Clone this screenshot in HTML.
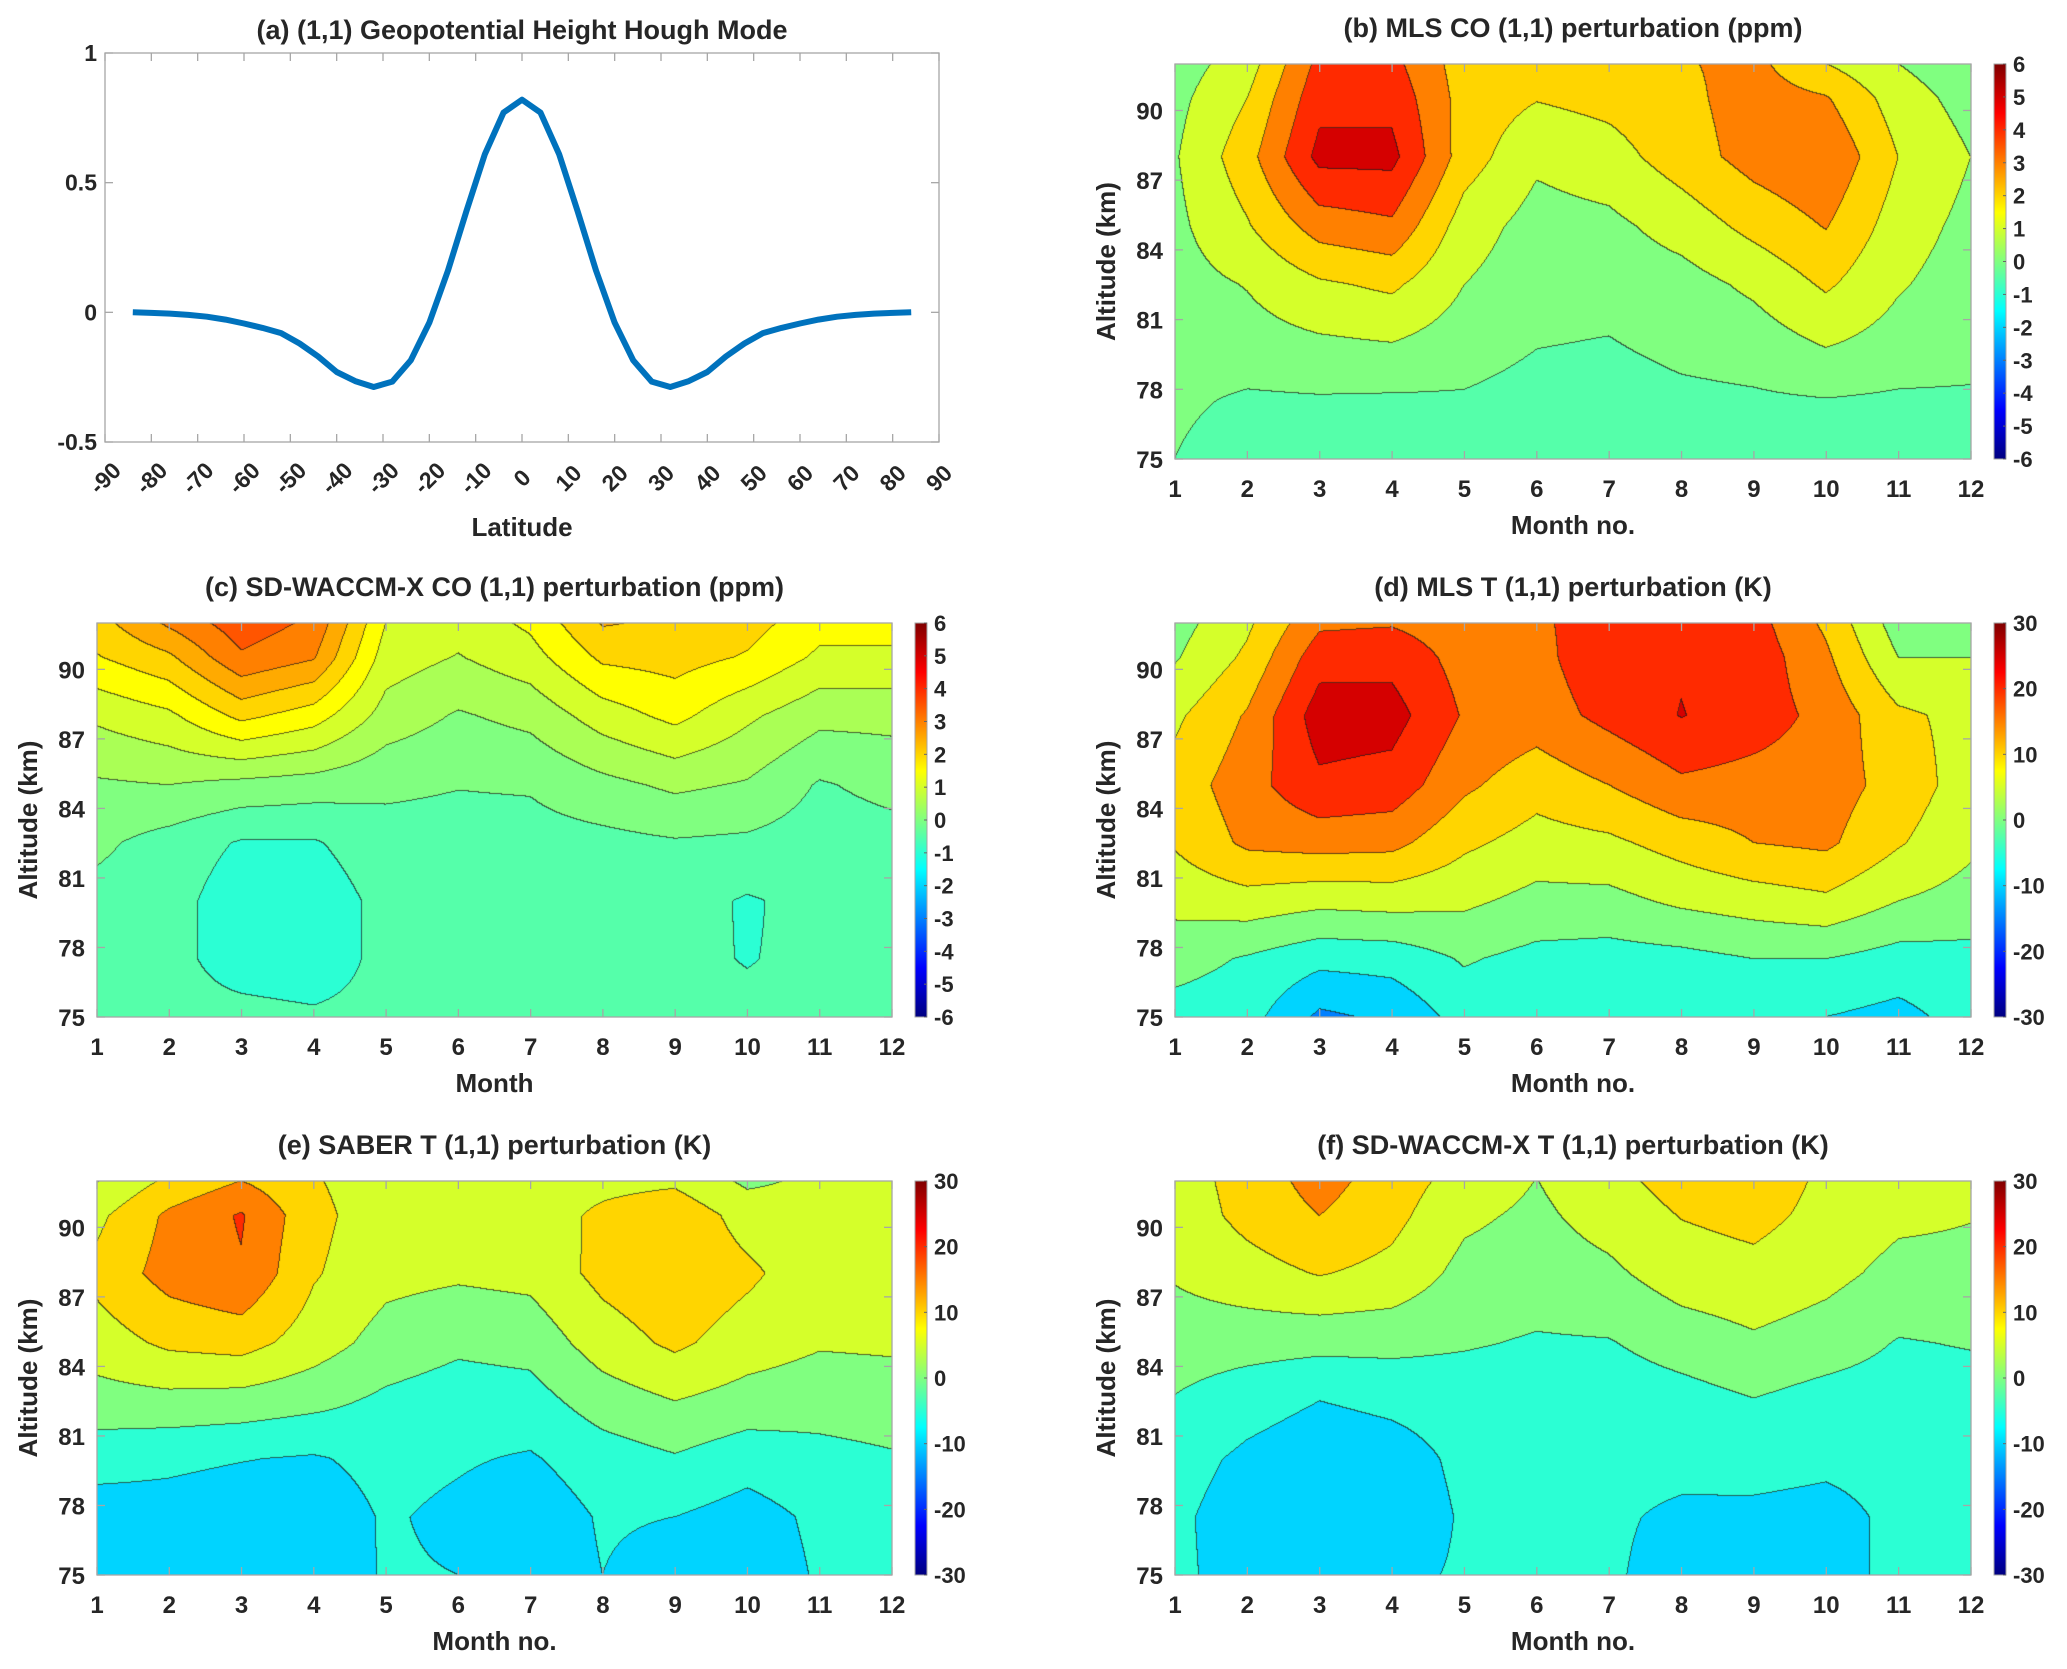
<!DOCTYPE html>
<html><head><meta charset="utf-8">
<style>
html,body{margin:0;padding:0;background:#fff;}
#page{position:relative;width:2067px;height:1669px;overflow:hidden;background:#fff;}
canvas{position:absolute;}
svg{position:absolute;left:0;top:0;}
text{font-family:"Liberation Sans",Arial,sans-serif;font-weight:bold;fill:#262626;}
</style></head>
<body>
<div id="page">
<canvas id="cv-b"></canvas>
<canvas id="cv-c"></canvas>
<canvas id="cv-d"></canvas>
<canvas id="cv-e"></canvas>
<canvas id="cv-f"></canvas>
<svg id="ov" width="2067" height="1669"></svg>
</div>
<script>
// ---------- Panel (a) data ----------
const houghLat = [-84,-80,-76,-72,-68,-64,-60,-56,-52,-48,-44,-40,-36,-32,-28,-24,-20,-16,-12,-8,-4,0,4,8,12,16,20,24,28,32,36,40,44,48,52,56,60,64,68,72,76,80,84];
const houghVal = [0,-0.002,-0.005,-0.01,-0.017,-0.028,-0.043,-0.06,-0.08,-0.12,-0.17,-0.23,-0.265,-0.288,-0.267,-0.185,-0.04,0.16,0.39,0.61,0.77,0.82,0.77,0.61,0.39,0.16,-0.04,-0.185,-0.267,-0.288,-0.265,-0.23,-0.17,-0.12,-0.08,-0.06,-0.043,-0.028,-0.017,-0.01,-0.005,-0.002,0];
const latTicks = [-90,-80,-70,-60,-50,-40,-30,-20,-10,0,10,20,30,40,50,60,70,80,90];
const houghTicks = [-0.5,0,0.5,1];

// ---------- Contour grid ----------
const months = [1,2,3,4,5,6,7,8,9,10,11,12];
const altitudes = [75,77.5,80,82.5,85,88,90.5,92];
const monthTicks = [1,2,3,4,5,6,7,8,9,10,11,12];
const altTicks = [75,78,81,84,87,90];
const coTicks = [-6,-5,-4,-3,-2,-1,0,1,2,3,4,5,6];
const tTicks = [-30,-20,-10,0,10,20,30];

// rows: one per altitude (75 -> 92), columns: months 1..12
const mlsCO = [
 [0.0,-0.6,-0.6,-0.6,-0.6,-0.8,-0.8,-0.7,-0.6,-0.6,-0.6,-0.6],
 [0.2,-0.15,-0.1,-0.15,-0.12,-0.4,-0.5,-0.25,-0.15,-0.05,-0.15,-0.15],
 [0.45,0.6,0.85,1.0,0.5,0.05,-0.05,0.3,0.5,1.1,0.6,0.4],
 [0.6,1.05,1.85,2.2,1.0,0.4,0.4,0.6,1.2,2.15,1.1,0.5],
 [0.75,1.9,3.45,3.8,1.5,0.6,0.75,1.4,2.3,3.05,1.5,0.7],
 [0.9,2.6,5.3,5.3,2.5,1.2,1.6,2.5,3.4,3.9,2.0,1.0],
 [0.7,2.0,4.7,4.7,2.6,2.05,2.3,2.7,3.5,3.1,1.5,0.6],
 [0.5,1.5,4.3,4.3,2.5,2.5,2.6,2.9,3.3,2.0,1.0,0.3]
];
const waccmCO = [
 [-0.4,-0.4,-0.4,-0.45,-0.4,-0.4,-0.4,-0.4,-0.4,-0.4,-0.4,-0.4],
 [-0.3,-0.4,-0.65,-0.7,-0.4,-0.4,-0.4,-0.4,-0.4,-0.52,-0.4,-0.4],
 [-0.15,-0.3,-0.8,-0.8,-0.35,-0.35,-0.35,-0.35,-0.3,-0.55,-0.35,-0.35],
 [0.1,-0.2,-0.55,-0.55,-0.2,-0.2,-0.2,-0.15,-0.05,-0.1,-0.25,-0.2],
 [0.43,0.5,0.35,0.25,0.1,0.02,0.05,0.35,0.6,0.45,-0.05,0.15],
 [1.1,1.4,2.15,1.75,0.8,0.45,0.65,1.25,1.65,1.1,0.65,0.65],
 [1.96,2.4,3.42,3.05,1.25,0.97,1.3,2.1,2.2,1.95,1.4,1.4],
 [2.3,3.1,3.8,3.4,1.5,1.2,1.6,2.55,2.4,2.2,1.7,1.7]
];
const mlsT = [
 [-2,-3,-11,-9,-3,-3.5,-4,-4,-3,-5,-6.5,-3],
 [2,-0.5,-3.5,-3,0.5,-1.5,-2,-1.5,0,0,-2,-1.5],
 [6.5,8,6.5,7,6,3.5,3.5,6,7.5,9,5,3],
 [10.5,16,17,16.5,11,8,9,12,15,16,10.5,6],
 [12,18,24,23,16,12,15,19,18,17.5,13,7.5],
 [9,15.5,27.5,27,19.5,17.5,21.5,25.2,22.5,18.5,11,8.5],
 [4.5,11,23,23.5,18,18.5,23.5,24.5,23,16,5,5],
 [3,9,19,19.5,17,19,23,24,22,14,2.5,2.5]
];
const saberT = [
 [-8.5,-8,-8.5,-8.5,-4.5,-5,-8,-5,-7,-8,-4.5,-4],
 [-7.5,-7,-8,-8,-4.5,-6,-8,-4.5,-5,-7,-4,-3.5],
 [-3,-4,-4.8,-5.5,-3.5,-4.5,-5.5,-2.5,-0.5,-3,-1.5,-0.5],
 [3,3.5,3,1.5,-1,-2.5,-2,2.5,5,3,2,2.5],
 [7.5,11,12,7.5,3,1,1.8,7.5,11,7.5,5.5,5.8],
 [11.5,17,19.5,10.5,6.5,5.8,6.5,11.5,14,11,7,7],
 [8.8,16,20.5,11.5,7,7,7.5,11,13.5,8,7,7],
 [4.8,11,15,10.5,7,7,7.5,8.5,9,4,6,7]
];
const waccmT = [
 [-4,-7,-9,-6,-4.5,-4.5,-4.5,-6.5,-7,-6.5,-4,-3.5],
 [-4,-7.5,-9,-8,-4.5,-4.5,-4.5,-5.6,-6,-6.5,-4,-3.5],
 [-3,-6,-8,-7,-4,-4,-4,-4,-3.3,-4,-3.5,-3],
 [-0.3,-3,-5,-4,-3,-3,-3,-2,-0.2,-2,-2.5,-2],
 [2.5,2,1.5,1.5,0.5,-0.5,-0.3,2.2,4.2,2.5,-0.3,0.3],
 [5.5,8,10.3,8.5,3.5,2.5,4,7.5,8.5,6.5,3.5,3.7],
 [7,11.5,15,11.5,6,4,7,10.2,11.5,8.5,6,5.2],
 [7.5,12,17,12.5,8,4.9,8.5,12,13,9,7.5,6.5]
];

const NS = "http://www.w3.org/2000/svg";
const ov = document.getElementById('ov');

function jet(t){
  const c = v => Math.max(0, Math.min(1, v));
  return [c(Math.min(4*t-1.5, -4*t+4.5)), c(Math.min(4*t-0.5, -4*t+3.5)), c(Math.min(4*t+0.5, -4*t+2.5))].map(v => Math.round(v*255));
}
function el(tag, attrs, parent){
  const e = document.createElementNS(NS, tag);
  for (const k in attrs) e.setAttribute(k, attrs[k]);
  (parent || ov).appendChild(e);
  return e;
}
function txt(s, x, y, size, anchor, extra){
  const t = el('text', Object.assign({x:x, y:y, 'font-size':size, 'text-anchor':anchor||'middle'}, extra||{}));
  t.textContent = s;
  return t;
}

const defs = el('defs', {});
const grad = el('linearGradient', {id:'jetg', x1:0, y1:1, x2:0, y2:0}, defs);
for (let i = 0; i <= 32; i++){
  const c = jet(i/32);
  el('stop', {offset:(i/32), 'stop-color':'rgb('+c.join(',')+')'}, grad);
}

function drawAxesBox(L, R, T, B){
  const r = el('rect', {x:L, y:T, width:R-L, height:B-T, fill:'none', stroke:'#a6a6a6', 'stroke-width':1.3});
  
  
}

// ---------- Panel (a) ----------
(function(){
  const L=105, R=939, T=53, B=442;
  const xs = v => L + (v + 90) / 180 * (R - L);
  const ys = v => B - (v + 0.5) / 1.5 * (B - T);
  drawAxesBox(L, R, T, B);
  latTicks.forEach(v => {
    const x = xs(v);
    el('line', {x1:x, y1:B, x2:x, y2:B-8, stroke:'#a6a6a6', 'stroke-width':1.3});
    el('line', {x1:x, y1:T, x2:x, y2:T+8, stroke:'#a6a6a6', 'stroke-width':1.3});
    const t = txt(String(v), 0, 0, 23, 'middle', {transform:'translate('+x+','+(B+36)+') rotate(-45)', 'dominant-baseline':'central'});
    
    
  });
  houghTicks.forEach(v => {
    const y = ys(v);
    el('line', {x1:L, y1:y, x2:L+8, y2:y, stroke:'#a6a6a6', 'stroke-width':1.3});
    el('line', {x1:R, y1:y, x2:R-8, y2:y, stroke:'#a6a6a6', 'stroke-width':1.3});
    const t = txt(String(v), L-8, y+8, 23, 'end');
    
    
  });
  const pts = houghLat.map((la, i) => xs(la).toFixed(1) + ',' + ys(houghVal[i]).toFixed(1)).join(' ');
  const pl = el('polyline', {points:pts, fill:'none', stroke:'#0072BD', 'stroke-width':6, 'stroke-linejoin':'round'});
  
  
  const ti = txt('(a) (1,1) Geopotential Height Hough Mode', (L+R)/2, 39, 27, 'middle', {fill:'#000'});
  
  
  const xl = txt('Latitude', (L+R)/2, 536, 26, 'middle');
  
  
})();

// ---------- Contour panels ----------
function bilinear(Z, m, a){
  let i = 0; while (i < months.length - 2 && m > months[i+1]) i++;
  let j = 0; while (j < altitudes.length - 2 && a > altitudes[j+1]) j++;
  const fx = Math.max(0, Math.min(1, (m - months[i]) / (months[i+1] - months[i])));
  const fy = Math.max(0, Math.min(1, (a - altitudes[j]) / (altitudes[j+1] - altitudes[j])));
  const z00 = Z[j][i], z10 = Z[j][i+1], z01 = Z[j+1][i], z11 = Z[j+1][i+1];
  return (z00*(1-fx) + z10*fx)*(1-fy) + (z01*(1-fx) + z11*fx)*fy;
}

function contourPanel(p){
  const {id, Z, L, R, T, B, cmin, cmax, step, cticks, title, xlabel, name, negShift} = p;
  const xs = m => L + (m - 1) / 11 * (R - L);
  const ys = a => B - (a - 75) / 17 * (B - T);
  const W = R - L, H = B - T;
  const cv = document.getElementById(id);
  cv.width = W; cv.height = H;
  cv.style.left = L + 'px'; cv.style.top = T + 'px';
  const ctx = cv.getContext('2d');
  const img = ctx.createImageData(W, H);
  const idx = new Int16Array(W * H);
  for (let py = 0; py < H; py++){
    const a = 92 - (py + 0.5) / H * 17;
    for (let px = 0; px < W; px++){
      const m = 1 + (px + 0.5) / W * 11;
      const v = bilinear(Z, m, a);
      idx[py*W + px] = Math.floor((v - cmin) / step);
    }
  }
  const nLev = Math.round((cmax - cmin) / step);
  for (let py = 0; py < H; py++){
    for (let px = 0; px < W; px++){
      const k = py*W + px;
      const li = Math.max(0, Math.min(nLev - 1, idx[k]));
      let tt = li * step / (cmax - cmin);
      if (negShift && li * step + cmin < 0) tt += 0.5 * step / (cmax - cmin);
      let c = jet(tt);
      const edge = (px < W-1 && idx[k+1] !== idx[k]) || (py < H-1 && idx[k+W] !== idx[k]);
      if (edge) c = [c[0]*0.3+20, c[1]*0.3+20, c[2]*0.3+20];
      img.data[k*4] = c[0]; img.data[k*4+1] = c[1]; img.data[k*4+2] = c[2]; img.data[k*4+3] = 255;
    }
  }
  ctx.putImageData(img, 0, 0);

  drawAxesBox(L, R, T, B);
  monthTicks.forEach(m => {
    const x = xs(m);
    el('line', {x1:x, y1:B, x2:x, y2:B-8, stroke:'#a6a6a6', 'stroke-width':1.3});
    el('line', {x1:x, y1:T, x2:x, y2:T+8, stroke:'#a6a6a6', 'stroke-width':1.3});
    const t = txt(String(m), x, B+38, 24, 'middle');
    
    
  });
  altTicks.forEach(a => {
    const y = ys(a);
    el('line', {x1:L, y1:y, x2:L+8, y2:y, stroke:'#a6a6a6', 'stroke-width':1.3});
    el('line', {x1:R, y1:y, x2:R-8, y2:y, stroke:'#a6a6a6', 'stroke-width':1.3});
    const t = txt(String(a), L-12, y+9, 24, 'end');
    
    
  });
  const cbL = R + 23, cbW = 12;
  const cb = el('rect', {x:cbL, y:T, width:cbW, height:H, fill:'url(#jetg)', stroke:'#a6a6a6', 'stroke-width':1});
  
  
  cticks.forEach(v => {
    const y = B - (v - cmin) / (cmax - cmin) * H;
    el('line', {x1:cbL+cbW-3, y1:y, x2:cbL+cbW, y2:y, stroke:'#666', 'stroke-width':1});
    const t = txt(String(v), cbL+cbW+7, y+8, 22, 'start');
    
    
  });
  const ti = txt(title, (L+R)/2, T-27, 27, 'middle', {fill:'#000'});
  
  
  const xl = txt(xlabel, (L+R)/2, B+75, 26, 'middle');
  
  
  const yl = txt('Altitude (km)', 0, 0, 26, 'middle', {transform:'translate('+(L-60)+','+((T+B)/2)+') rotate(-90)'});
  
  
}

contourPanel({id:'cv-b', name:'panel-b', Z:mlsCO, L:1175, R:1971, T:64, B:459, cmin:-6, cmax:6, step:1, cticks:coTicks, negShift:true, title:'(b) MLS CO (1,1) perturbation (ppm)', xlabel:'Month no.'});
contourPanel({id:'cv-c', name:'panel-c', Z:waccmCO, L:97, R:892, T:623, B:1017, cmin:-6, cmax:6, step:0.5, cticks:coTicks, title:'(c) SD-WACCM-X CO (1,1) perturbation (ppm)', xlabel:'Month'});
contourPanel({id:'cv-d', name:'panel-d', Z:mlsT, L:1175, R:1971, T:623, B:1017, cmin:-30, cmax:30, step:5, cticks:tTicks, title:'(d) MLS T (1,1) perturbation (K)', xlabel:'Month no.'});
contourPanel({id:'cv-e', name:'panel-e', Z:saberT, L:97, R:892, T:1181, B:1575, cmin:-30, cmax:30, step:5, cticks:tTicks, title:'(e) SABER T (1,1) perturbation (K)', xlabel:'Month no.'});
contourPanel({id:'cv-f', name:'panel-f', Z:waccmT, L:1175, R:1971, T:1181, B:1575, cmin:-30, cmax:30, step:5, cticks:tTicks, title:'(f) SD-WACCM-X T (1,1) perturbation (K)', xlabel:'Month no.'});
</script>
</body></html>
